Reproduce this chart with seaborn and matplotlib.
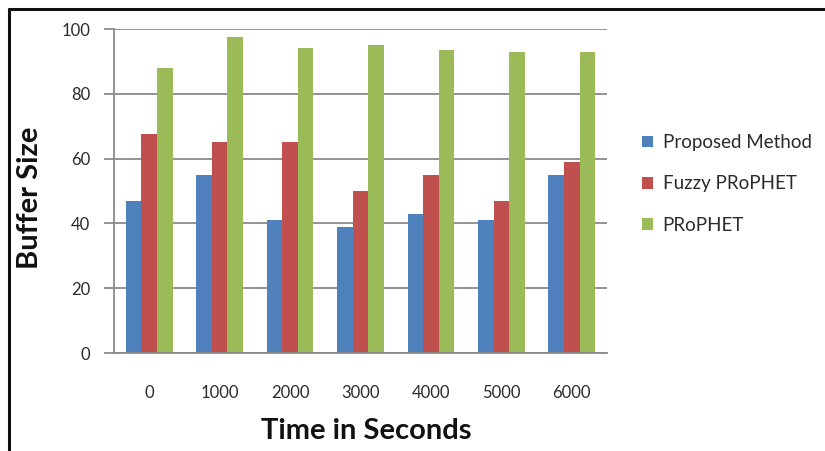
import matplotlib
matplotlib.use("Agg")
import matplotlib.pyplot as plt
from matplotlib.patches import Patch
from matplotlib.lines import Line2D
import seaborn as sns
import pandas as pd

# Buffer occupancy sampled every 1000 s for the three routing schemes
times = ["0", "1000", "2000", "3000", "4000", "5000", "6000"]
proposed = [47, 55, 41, 39, 43, 41, 55]
fuzzy_prophet = [67.5, 65, 65, 50, 55, 47, 59]
prophet = [88, 97.5, 94, 95, 93.5, 93, 93]
series_names = ["Proposed Method", "Fuzzy PRoPHET", "PRoPHET"]
colors = ["#4F81BD", "#C0504D", "#9BBB59"]
y_ticks = [0, 20, 40, 60, 80, 100]

rows = []
for name, vals in zip(series_names, [proposed, fuzzy_prophet, prophet]):
    for t, v in zip(times, vals):
        rows.append({"Time": t, "Series": name, "Buffer": v})
df = pd.DataFrame(rows)

sns.set_theme(style="white")
plt.rcParams["font.family"] = ["Lato", "DejaVu Sans"]

W, H = 825, 451
fig = plt.figure(figsize=(W / 100, H / 100), dpi=100)
fig.patch.set_facecolor("white")
ax = fig.add_axes([114 / W, (H - 353) / H, (607 - 114) / W, (353 - 29) / H])

sns.barplot(data=df, x="Time", y="Buffer", hue="Series", order=times,
            hue_order=series_names, palette=colors, saturation=1,
            width=0.665, gap=0, ax=ax, legend=False, errorbar=None,
            linewidth=0)

grid_color = "#8A8A8A"
text_color = "#2B2B2B"
ax.set_xlim(-0.5, len(times) - 0.5)
ax.set_ylim(0, 100)
ax.set_yticks(y_ticks)
ax.set_yticklabels([str(v) for v in y_ticks], fontsize=12, color=text_color)
ax.yaxis.grid(True, color=grid_color, linewidth=1.3)
ax.set_axisbelow(True)

# category labels at bar-group centres, tick marks on group boundaries
ax.set_xticks(range(len(times)))
ax.set_xticklabels(times, fontsize=12, color=text_color)
ax.set_xticks([i - 0.5 for i in range(len(times) + 1)], minor=True)
ax.tick_params(axis="x", which="major", length=0, pad=23)
ax.tick_params(axis="x", which="minor", length=7, width=1.3, color=grid_color,
               direction="out")
ax.tick_params(axis="y", which="major", length=7, width=1.3, color=grid_color,
               direction="out", pad=10, left=True)

for side in ["top", "right"]:
    ax.spines[side].set_visible(False)
for side in ["left", "bottom"]:
    ax.spines[side].set_color(grid_color)
    ax.spines[side].set_linewidth(1.3)

ax.set_xlabel("")
ax.set_ylabel("")
fig.text(366 / W, 1 - 431 / H, "Time in Seconds", fontsize=21, fontweight="bold",
         ha="center", va="center", color="#111111")
fig.text(30 / W, 1 - 198 / H, "Buffer Size", fontsize=21, fontweight="bold",
         ha="center", va="center", rotation=90, color="#111111")

handles = [Patch(facecolor=c, edgecolor="none") for c in colors]
ax.legend(handles, series_names, loc="center left",
          bbox_to_anchor=(642 / W, 1 - 184 / H), bbox_transform=fig.transFigure,
          frameon=False, fontsize=13.5, handlelength=0.6, handleheight=0.6,
          handletextpad=0.5, labelspacing=1.3, borderaxespad=0, borderpad=0,
          labelcolor=text_color)

# outer chart frame (open on the right and bottom)
fig.add_artist(Line2D([8.5 / W, 8.5 / W], [0, 1 - 8.5 / H],
                      transform=fig.transFigure, color="#111111", linewidth=2.2))
fig.add_artist(Line2D([8.5 / W, 1], [1 - 8.5 / H, 1 - 8.5 / H],
                      transform=fig.transFigure, color="#111111", linewidth=2.2))

fig.savefig("out.png", dpi=100)
